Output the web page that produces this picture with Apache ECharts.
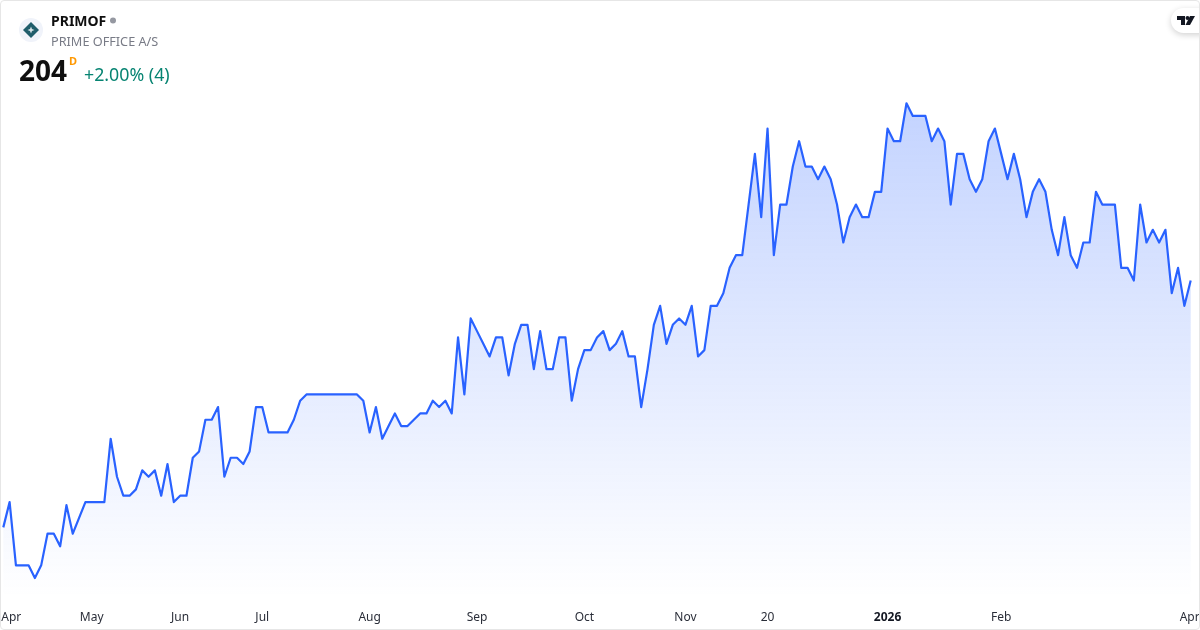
<!DOCTYPE html>
<html lang="en">
  <head>
    <meta charset="UTF-8" />
    <title>PRIMOF</title>
    <script src="https://cdn.jsdelivr.net/npm/echarts@6/dist/echarts.min.js"></script>
    <style>
      html, body { margin: 0; padding: 0; background: #fff; }
      #frame { position: relative; width: 1200px; height: 630px; box-sizing: border-box; border: 1px solid #e6e6e6; border-radius: 4px; overflow: hidden; }
      #chart { position: absolute; left: -1px; top: -1px; width: 1200px; height: 630px; }
    </style>
  </head>
  <body>
    <div id="frame"><div id="chart"></div></div>
    <script>
      var prices = [
        165, 169, 159, 159, 159, 157, 159, 164, 164, 162, 168.5, 164, 166.5, 169, 169, 169,
        169, 179, 173, 170, 170, 171, 174, 173, 174, 170, 175, 169, 170, 170, 176, 177,
        182, 182, 184, 173, 176, 176, 175, 177, 184, 184, 180, 180, 180, 180, 182,
        185, 186, 186, 186, 186, 186, 186, 186, 186, 186, 185, 180, 184, 179, 181, 183,
        181, 181, 182, 183, 183, 185, 184, 185, 183, 195, 186, 198, 196, 194, 192, 195,
        195, 189, 194, 197, 197, 190, 196, 190, 190, 195, 195, 185, 190, 193, 193, 195,
        196, 193, 194, 196, 192, 192, 184, 190, 197, 200, 194, 197, 198, 197, 200, 192,
        193, 200, 200, 202, 206, 208, 208, 216, 224, 214, 228, 208, 216, 216, 222, 226,
        222, 222, 220, 222, 220, 216, 210, 214, 216, 214, 214, 218, 218, 228, 226, 226,
        232, 230, 230, 230, 226, 228, 226, 216, 224, 224, 220, 218, 220, 226, 228, 224,
        220, 224, 220, 214, 218, 220, 218, 212, 208, 214, 208, 206, 210, 210, 218, 216,
        216, 216, 206, 206, 204, 216, 210, 212, 210, 212, 202, 206, 200, 204
      ];
      var tickIndex = [0, 14, 28, 41, 58, 75, 92, 108, 121, 140, 158, 188];
      var tickLabels = ['Apr', 'May', 'Jun', 'Jul', 'Aug', 'Sep', 'Oct', 'Nov', '20', '2026', 'Feb', 'Apr'];
      var boldLabel = '2026';

      var symbol = 'PRIMOF';
      var companyName = 'PRIME OFFICE A/S';
      var lastPrice = '204';
      var priceUnit = 'D';
      var priceChange = '+2.00% (4)';

      var fontName = "'Noto Sans', sans-serif";
      var lineColor = '#2962ff';
      var textColor = '#2a2e39';

      var categories = prices.map(function (v, i) {
        var pos = tickIndex.indexOf(i);
        return pos >= 0 ? tickLabels[pos] : String(i);
      });

      var priceChart = echarts.init(document.getElementById('chart'));

      var chartOption = {
        animation: false,
        backgroundColor: 'transparent',
        grid: { left: 3.3, right: 9.3, top: 52.6, bottom: 33, outerBoundsMode: 'none' },
        xAxis: {
          type: 'category',
          boundaryGap: false,
          data: categories,
          axisLine: { show: false },
          axisTick: { show: false },
          splitLine: { show: false },
          axisLabel: {
            interval: function (index) {
              return tickIndex.indexOf(index) >= 0;
            },
            alignMinLabel: 'center',
            alignMaxLabel: 'center',
            showMinLabel: true,
            showMaxLabel: true,
            hideOverlap: false,
            margin: 15,
            color: textColor,
            fontSize: 12,
            fontFamily: fontName,
            formatter: function (value, index) {
              // 양끝 라벨은 화면 안쪽으로 밀어서 표시
              if (index === 0) return '{first|' + value + '}';
              if (index === prices.length - 1) return '{last|' + value + '}';
              return value === boldLabel ? '{b|' + value + '}' : value;
            },
            rich: {
              b: { fontWeight: 700, fontSize: 12, color: '#131722', fontFamily: fontName },
              first: { fontSize: 12, color: textColor, fontFamily: fontName, padding: [0, 0, 0, 16] },
              last: { fontSize: 12, color: textColor, fontFamily: fontName, padding: [0, 2, 0, 0] }
            }
          }
        },
        yAxis: {
          type: 'value',
          show: false,
          min: 154,
          max: 240
        },
        series: [
          {
            type: 'line',
            data: prices,
            symbol: 'none',
            smooth: false,
            lineStyle: { color: lineColor, width: 2.2, join: 'round' },
            areaStyle: {
              origin: 'start',
              opacity: 1,
              color: new echarts.graphic.LinearGradient(0, 0, 0, 1, [
                { offset: 0, color: 'rgba(41, 98, 255, 0.28)' },
                { offset: 1, color: 'rgba(41, 98, 255, 0)' }
              ])
            }
          }
        ],
        graphic: [
          // logo
          { type: 'circle', shape: { cx: 31, cy: 30, r: 12 }, style: { fill: '#f0f3fa' } },
          { type: 'polygon', shape: { points: [[31, 22], [39, 30], [31, 38], [23, 30]] }, style: { fill: '#1f5d6b' } },
          { type: 'polygon', shape: { points: [[31, 26.5], [32, 29], [34.5, 30], [32, 31], [31, 33.5], [30, 31], [27.5, 30], [30, 29]] }, style: { fill: '#d7e4e8' } },
          // header text
          { type: 'text', x: 51, y: 15, style: { text: symbol, fill: '#0f0f0f', font: "700 14px " + fontName } },
          { type: 'circle', shape: { cx: 113, cy: 20.5, r: 3 }, style: { fill: '#9598a1' } },
          { type: 'text', x: 51, y: 36, style: { text: companyName, fill: '#787b86', font: "400 12.7px " + fontName } },
          { type: 'text', x: 19, y: 59, style: { text: lastPrice, fill: '#0f0f0f', font: "700 28px " + fontName } },
          { type: 'text', x: 69, y: 56, style: { text: priceUnit, fill: '#ff9800', font: "700 11px " + fontName } },
          { type: 'text', x: 84, y: 67, style: { text: priceChange, fill: '#078472', font: "400 17.8px " + fontName } },
          // tradingview badge
          {
            type: 'rect',
            shape: { x: 1171, y: 8, width: 44, height: 25, r: 12.5 },
            style: { fill: '#fff', shadowBlur: 6, shadowColor: 'rgba(0, 0, 0, 0.18)', shadowOffsetY: 2 }
          },
          { type: 'polygon', shape: { points: [[1177, 16], [1185, 16], [1185, 25], [1181, 25], [1181, 20], [1177, 20]] }, style: { fill: '#131722' } },
          { type: 'circle', shape: { cx: 1187.5, cy: 18, r: 2 }, style: { fill: '#131722' } },
          { type: 'polygon', shape: { points: [[1190, 16], [1195, 16], [1190, 25], [1185.5, 25]] }, style: { fill: '#131722' } }
        ]
      };

      priceChart.setOption(chartOption);
    </script>
  </body>
</html>
